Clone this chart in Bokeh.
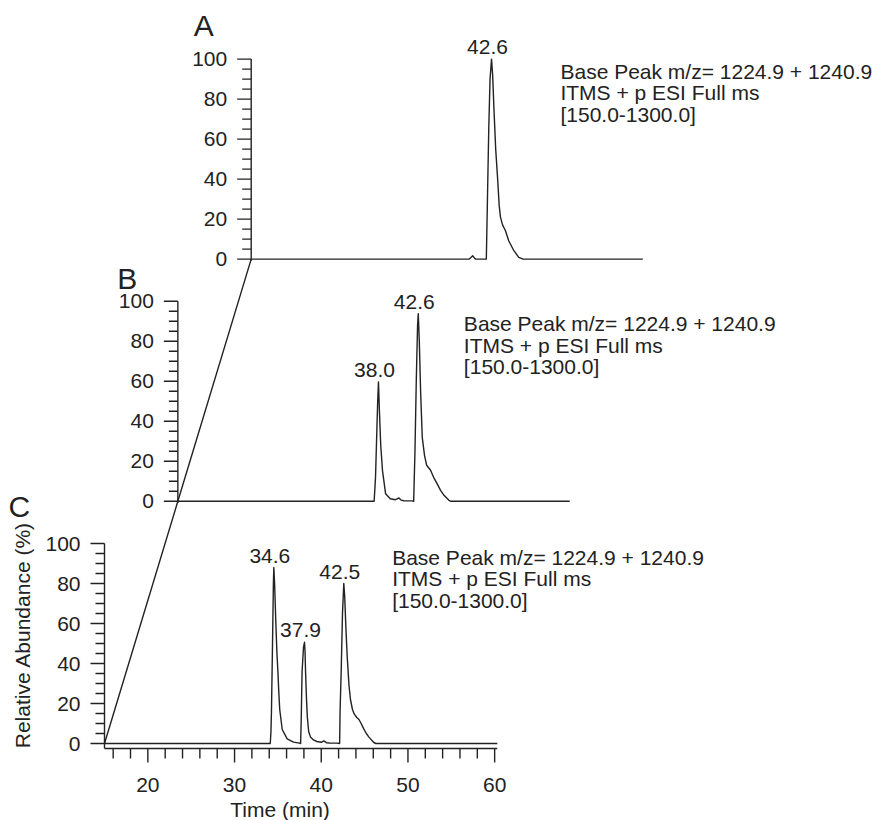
import math
from bokeh.plotting import figure
from bokeh.models import Range1d, ColumnDataSource
from bokeh.core.properties import value
from bokeh.embed import file_html
from bokeh.resources import INLINE

# ---------------- data ----------------
# panel C (bottom)
c_time = [15.0, 34.12, 34.2, 34.26, 34.38, 34.48, 34.53, 34.62, 34.75, 34.88, 35.0, 35.1,
          35.21, 35.5, 36.07, 36.8, 37.5, 37.62, 37.68, 37.79, 37.95, 38.07, 38.13, 38.19,
          38.3, 38.4, 38.55, 38.76, 39.1, 39.5, 40.0, 40.3, 40.6, 41.0, 41.8, 42.12, 42.17,
          42.3, 42.45, 42.6, 42.7, 42.85, 43.0, 43.2, 43.37, 43.6, 43.8, 44.1, 44.35, 44.6,
          44.9, 45.2, 45.5, 46.06, 46.3, 60.3]
c_abund = [0, 0, 6, 16.5, 50, 80, 88, 80, 62, 46, 36, 26,
           17, 7, 2.3, 0.7, 0.2, 0, 10, 36, 48, 50.6, 46, 36,
           22, 13, 6, 3.2, 1.8, 1, 0.6, 1.3, 0.4, 0.2, 0.2, 0, 16,
           36, 65, 80, 74, 57, 43, 29, 22, 17, 14.8, 13, 12, 10,
           7.3, 5, 3.2, 0.5, 0, 0]
c_peak_time = [34.53, 38.07, 42.6]
c_peak_abund = [88, 50.6, 80]
c_peak_label = ["34.6", "37.9", "42.5"]

# panel B (middle)
b_time = [15.0, 37.64, 37.8, 37.95, 38.05, 38.14, 38.25, 38.4, 38.6, 38.96, 39.5, 40.1,
          40.3, 40.5, 40.75, 41.07, 42.0, 42.2, 42.35, 42.5, 42.65, 42.73, 42.85, 43.0,
          43.19, 43.45, 43.7, 44.15, 44.5, 44.9, 45.3, 45.7, 46.27, 46.5, 60.2]
b_abund = [0, 0, 12, 35, 50, 59.7, 45, 28, 15.5, 3.8, 1.3, 0.8,
           1.2, 1.7, 0.6, 0.3, 0.2, 0, 25, 60, 88, 93.8, 80, 55,
           32, 23, 18, 15.5, 12, 8.8, 5.5, 3, 0.5, 0, 0]
b_peak_time = [38.14, 42.73]
b_peak_abund = [59.7, 93.8]
b_peak_label = ["38.0", "42.6"]

# panel A (top)
a_time = [15.0, 40.15, 40.35, 40.55, 40.75, 40.9, 42.12, 42.25, 42.4, 42.55, 42.72, 42.85,
          43.0, 43.2, 43.44, 43.6, 43.75, 44.0, 44.33, 44.7, 45.3, 45.86, 46.37, 60.17]
a_abund = [0, 0, 0.8, 1.7, 0.5, 0, 0, 30, 65, 90, 100, 92,
           75, 55, 39, 27, 21, 17, 14.2, 9.2, 4.2, 0.9, 0, 0]
a_peak_time = [42.72]
a_peak_abund = [100]
a_peak_label = ["42.6"]

y_ticks = [0, 20, 40, 60, 80, 100]
y_tick_labels = ["0", "20", "40", "60", "80", "100"]
y_minor_ticks = [5, 10, 15, 25, 30, 35, 45, 50, 55, 65, 70, 75, 85, 90, 95]
x_ticks = [20, 30, 40, 50, 60]
x_tick_labels = ["20", "30", "40", "50", "60"]
x_minor_ticks = [16, 18, 22, 24, 26, 28, 32, 34, 36, 38, 42, 44, 46, 48, 52, 54, 56, 58]
info_lines = ["Base Peak m/z=  1224.9 + 1240.9", "ITMS + p ESI Full ms", "[150.0-1300.0]"]
panel_names = ["C", "B", "A"]
x_title = "Time (min)"
y_title = "Relative Abundance (%)"

# ---------------- layout / style ----------------
FONT = value("Liberation Sans")
INK = "#222222"
LW = 1.4
CANVAS_W, CANVAS_H = 880, 820
PX_PER_MIN, PX_PER_PCT = 8.67, 2.0
ORIGIN_PX = (104, 743)                 # canvas position of (15 min, 0 %) of panel C
X_START = 15.0 - ORIGIN_PX[0] / PX_PER_MIN
X_END = X_START + CANVAS_W / PX_PER_MIN
Y_END = ORIGIN_PX[1] / PX_PER_PCT
Y_START = Y_END - CANVAS_H / PX_PER_PCT
T0 = 15.0                               # time at each panel's own y axis
BASE_GAP = -2.5                         # bottom panel's time axis sits 5 px below 0 %
STEP_X, STEP_Y = 8.46, 121.1            # offset of each stacked trace
TIME_AXIS_END = 60.3
LINE_GAP = 21.5
MAJOR_LEN, MINOR_LEN_Y, MINOR_LEN_X = 14, 9, 10

panels = [
    dict(time=c_time, abund=c_abund, pt=c_peak_time, pa=c_peak_abund, pl=c_peak_label,
         info=(48.18, 93.15), letter=(3.93, 118.5)),
    dict(time=b_time, abund=b_abund, pt=b_peak_time, pa=b_peak_abund, pl=b_peak_label,
         info=(47.99, 88.85), letter=(8.0, 111.35)),
    dict(time=a_time, abund=a_abund, pt=a_peak_time, pa=a_peak_abund, pl=a_peak_label,
         info=(50.67, 93.85), letter=(8.38, 116.75)),
]

p = figure(frame_width=CANVAS_W, frame_height=CANVAS_H,
           x_range=Range1d(X_START, X_END), y_range=Range1d(Y_START, Y_END),
           x_axis_location=None, y_axis_location=None,
           output_backend="svg", toolbar_location=None,
           min_border_left=0, min_border_right=0, min_border_top=0, min_border_bottom=0)
p.xgrid.visible = False
p.ygrid.visible = False
p.outline_line_color = None
p.background_fill_color = "white"
p.border_fill_color = "white"

txt = dict(text_font=FONT, text_color=INK)


def y_axis(ox, oy, bottom):
    x0 = T0 + ox
    p.line([x0, x0], [oy + bottom, oy + 100], line_color=INK, line_width=LW)
    p.segment(x0=[x0] * len(y_ticks), y0=[v + oy for v in y_ticks],
              x1=[x0 - MAJOR_LEN / PX_PER_MIN] * len(y_ticks), y1=[v + oy for v in y_ticks],
              line_color=INK, line_width=LW)
    p.segment(x0=[x0] * len(y_minor_ticks), y0=[v + oy for v in y_minor_ticks],
              x1=[x0 - MINOR_LEN_Y / PX_PER_MIN] * len(y_minor_ticks),
              y1=[v + oy for v in y_minor_ticks], line_color=INK, line_width=LW)
    p.text(x=[x0] * len(y_ticks), y=[v + oy for v in y_ticks], text=y_tick_labels,
           x_offset=-24, text_align="right", text_baseline="middle",
           text_font_size="21px", **txt)


# bottom panel time axis
p.line([T0, TIME_AXIS_END], [BASE_GAP, BASE_GAP], line_color=INK, line_width=LW)
p.segment(x0=x_ticks, y0=[BASE_GAP] * len(x_ticks), x1=x_ticks,
          y1=[BASE_GAP - MAJOR_LEN / PX_PER_PCT] * len(x_ticks), line_color=INK, line_width=LW)
p.segment(x0=x_minor_ticks, y0=[BASE_GAP] * len(x_minor_ticks), x1=x_minor_ticks,
          y1=[BASE_GAP - MINOR_LEN_X / PX_PER_PCT] * len(x_minor_ticks),
          line_color=INK, line_width=LW)
p.text(x=x_ticks, y=[BASE_GAP] * len(x_ticks), text=x_tick_labels, y_offset=36,
       text_align="center", text_baseline="middle", text_font_size="21px", **txt)
# axis titles (centred on the bottom panel's axes)
p.text(x=[(T0 + TIME_AXIS_END) / 2 - 2.4], y=[BASE_GAP], text=[x_title], y_offset=61,
       text_align="center", text_baseline="middle", text_font_size="21px", **txt)
p.text(x=[T0], y=[50 + BASE_GAP / 2 + 5.5], text=[y_title], x_offset=-82, angle=math.pi / 2,
       text_align="center", text_baseline="middle", text_font_size="21px", **txt)

# connecting perspective line through the origins of the stacked traces
p.line([T0 + k * STEP_X for k in range(3)], [k * STEP_Y for k in range(3)],
       line_color=INK, line_width=LW)

for level, pan in enumerate(panels):
    ox, oy = level * STEP_X, level * STEP_Y
    # trace
    p.line([t + ox for t in pan["time"]], [v + oy for v in pan["abund"]],
           line_color=INK, line_width=LW, line_join="round")
    # y axis of this panel
    y_axis(ox, oy, BASE_GAP if level == 0 else -0.8)
    # peak labels
    p.text(x=[t + ox for t in pan["pt"]], y=[v + oy for v in pan["pa"]], text=pan["pl"],
           x_offset=-4, y_offset=-12, text_align="center", text_baseline="middle",
           text_font_size="21px", **txt)
    # info text
    ix, iy = pan["info"]
    src = ColumnDataSource(dict(x=[ix + ox] * 3, y=[iy + oy] * 3, text=info_lines,
                                yo=[0, LINE_GAP, 2 * LINE_GAP]))
    p.text(x="x", y="y", text="text", y_offset="yo", source=src,
           text_align="left", text_baseline="middle", text_font_size="21px", **txt)
    # panel letter
    lx, ly = pan["letter"]
    p.text(x=[lx + ox], y=[ly + oy], text=[panel_names[level]],
           text_align="left", text_baseline="middle", text_font_size="30px", **txt)

open("out.html", "w").write(file_html(p, INLINE))
